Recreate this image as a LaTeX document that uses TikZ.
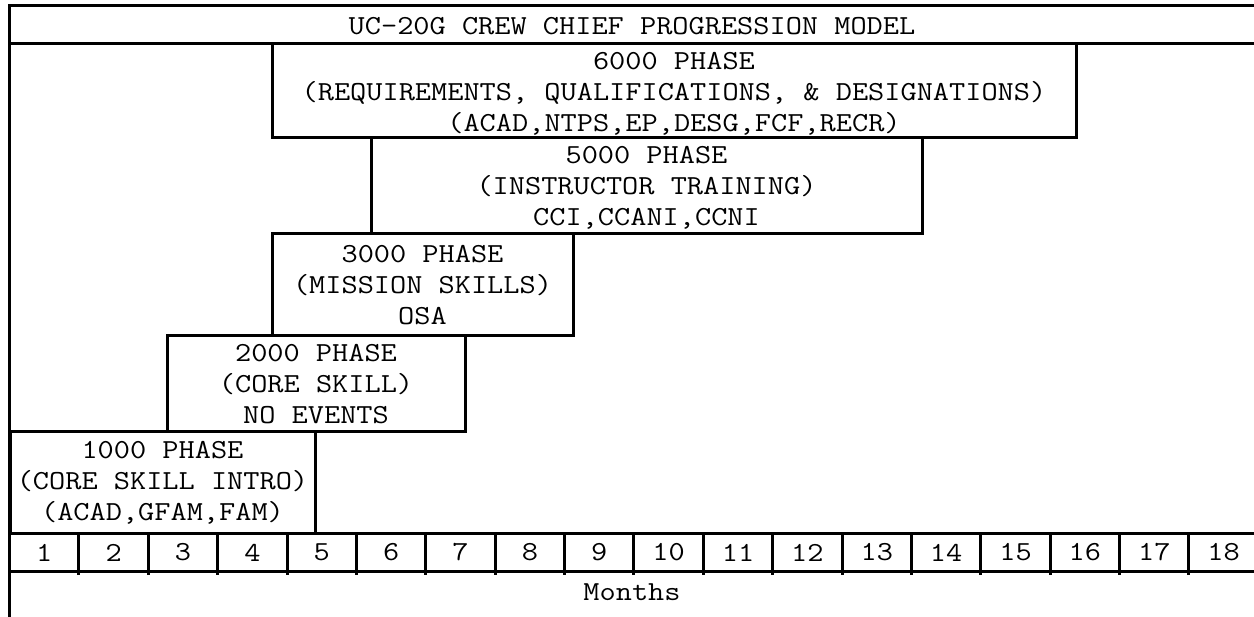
\documentclass[tikz,border=0pt]{standalone}
\usepackage{fontspec}
\newfontfamily\courlike[FakeStretch=1.143]{Latin Modern Mono}
\begin{document}
\begin{tikzpicture}[x=1pt,y=-1pt,
  frame/.style={line width=3pt, line join=miter},
  phasebox/.style={draw, line width=3pt, inner sep=0pt, outer sep=0pt, align=center,
    font=\courlike\fontsize{27.5}{31}\selectfont},
  phasetext/.style={align=center, inner sep=0pt, font=\courlike\fontsize{27.5}{31}\selectfont},
  monthcell/.style={draw, line width=3pt, inner sep=0pt, outer sep=0pt,
    minimum width=69.375pt, minimum height=37pt, font=\courlike\fontsize{27.5}{31}\selectfont},
  label/.style={inner sep=0pt, font=\courlike\fontsize{27.5}{31}\selectfont}]
\useasboundingbox (0,0) rectangle (1254,617);
\clip (0,0) rectangle (1254,617);
\fill[white] (0,0) rectangle (1254,617);
% frame
\draw[frame] (1260,5.5) -- (9.5,5.5) -- (9.5,625);
\draw[frame] (9.5,43.5) -- (1260,43.5);
\node[label] (title) at (632,26) {UC-20G CREW CHIEF PROGRESSION MODEL};
% phases
\node[phasebox, minimum width=804pt, minimum height=94.5pt] (p6000) at (674,90.75) {};
\node[phasetext] (t6000) at ([yshift=-3pt]p6000.center)
  {6000 PHASE\\(REQUIREMENTS, QUALIFICATIONS, \& DESIGNATIONS)\\(ACAD,NTPS,EP,DESG,FCF,RECR)};
\node[phasebox, minimum width=551pt, minimum height=96pt] (p5000) at (646.5,186) {};
\node[phasetext] (t5000) at ([yshift=-2pt]p5000.center)
  {5000 PHASE\\(INSTRUCTOR TRAINING)\\CCI,CCANI,CCNI};
\node[phasebox, minimum width=301pt, minimum height=102pt] (p3000) at (422.5,285)
  {3000 PHASE\\(MISSION SKILLS)\\OSA};
\node[phasebox, minimum width=298pt, minimum height=96pt] (p2000) at (316,384)
  {2000 PHASE\\(CORE SKILL)\\NO EVENTS};
\node[phasebox, minimum width=305pt, minimum height=102pt] (p1000) at (162.5,483)
  {1000 PHASE\\(CORE SKILL INTRO)\\(ACAD,GFAM,FAM)};
% months
\foreach \i in {1,...,18} {
  \node[monthcell] (m\i) at ({9.6+69.375*(\i-0.5)},552.5) {\i};
  \draw[line width=3pt] (m\i.north east) -- ([yshift=-3.5pt]m\i.south east);
}
\draw[frame] (m18.north east) -- (1260,534);
\draw[frame] (m18.south east) -- (1260,571);
\node[label] (months) at (632,592) {Months};
\end{tikzpicture}
\end{document}
